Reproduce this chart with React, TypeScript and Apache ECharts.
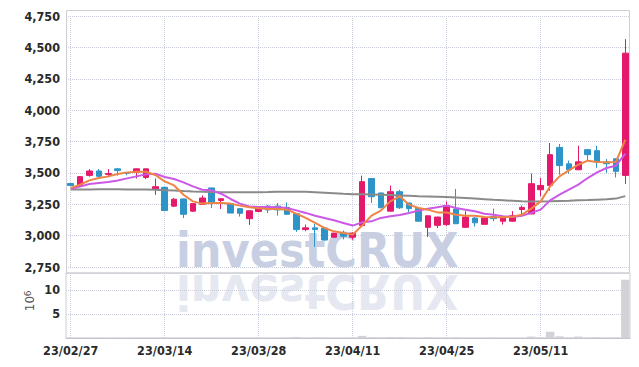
import React, { useEffect, useRef } from 'react';
import * as echarts from 'echarts';

const dates = [
  '23/02/27', '23/02/28', '23/03/02', '23/03/03', '23/03/06', '23/03/07', '23/03/08', '23/03/09', '23/03/10', '23/03/13',
  '23/03/14', '23/03/15', '23/03/16', '23/03/17', '23/03/20', '23/03/21', '23/03/22', '23/03/23', '23/03/24', '23/03/27',
  '23/03/28', '23/03/29', '23/03/30', '23/03/31', '23/04/03', '23/04/04', '23/04/05', '23/04/06', '23/04/07', '23/04/10',
  '23/04/11', '23/04/12', '23/04/13', '23/04/14', '23/04/17', '23/04/18', '23/04/19', '23/04/20', '23/04/21', '23/04/24',
  '23/04/25', '23/04/26', '23/04/27', '23/04/28', '23/05/02', '23/05/03', '23/05/04', '23/05/08', '23/05/09', '23/05/10',
  '23/05/11', '23/05/12', '23/05/15', '23/05/16', '23/05/17', '23/05/18', '23/05/19', '23/05/22', '23/05/23', '23/05/24',
];

const openP = [
  3415, 3400, 3480, 3515, 3488, 3532, 3500, 3505, 3464, 3372,
  3385, 3235, 3292, 3195, 3250, 3380, 3280, 3255, 3215, 3135,
  3192, 3235, 3235, 3225, 3175, 3048, 3062, 3060, 2987, 3020,
  2988, 3080, 3455, 3340, 3195, 3350, 3260, 3217, 3066, 3082,
  3088, 3212, 3066, 3140, 3090, 3152, 3115, 3115, 3208, 3173,
  3366, 3400, 3703, 3572, 3525, 3685, 3677, 3587, 3612, 3480,
];
const closeP = [
  3400, 3470, 3515, 3473, 3495, 3518, 3498, 3532, 3532, 3390,
  3200, 3290, 3170, 3255, 3300, 3262, 3294, 3180, 3178, 3198,
  3220, 3205, 3205, 3170, 3048, 3062, 3048, 2965, 3020, 2995,
  3020, 3430, 3310, 3222, 3350, 3222, 3215, 3115, 3158, 3148,
  3240, 3095, 3148, 3102, 3140, 3135, 3145, 3158, 3225, 3414,
  3400, 3645, 3558, 3525, 3588, 3645, 3585, 3573, 3512, 4454,
];
const lowP = [
  3395, 3395, 3470, 3465, 3465, 3478, 3480, 3455, 3450, 3325,
  3195, 3230, 3140, 3190, 3245, 3220, 3212, 3178, 3152, 3085,
  3188, 3180, 3160, 3165, 3030, 3035, 2910, 2960, 2985, 2970,
  2968, 3070, 3260, 3218, 3192, 3212, 3188, 3112, 2990, 3060,
  3078, 3092, 3062, 3072, 3088, 3114, 3088, 3110, 3168, 3170,
  3313, 3358, 3486, 3494, 3522, 3597, 3540, 3500, 3464, 3412,
];
const highP = [
  3420, 3475, 3530, 3530, 3530, 3540, 3505, 3535, 3535, 3455,
  3390, 3300, 3295, 3258, 3320, 3382, 3296, 3258, 3218, 3200,
  3225, 3245, 3260, 3265, 3178, 3088, 3093, 3062, 3022, 3040,
  3025, 3478, 3456, 3342, 3398, 3366, 3262, 3220, 3160, 3150,
  3272, 3372, 3195, 3148, 3145, 3215, 3150, 3195, 3240, 3494,
  3460, 3738, 3730, 3598, 3716, 3688, 3716, 3610, 3615, 4566,
];

const ma5 = [
  3380, 3406, 3440, 3459, 3472, 3491, 3504, 3509, 3509, 3483,
  3432, 3400, 3326, 3273, 3255, 3260, 3260, 3255, 3239, 3226,
  3218, 3212, 3212, 3207, 3175, 3141, 3101, 3061, 3034, 3021,
  3008, 3080, 3159, 3199, 3273, 3313, 3247, 3220, 3207, 3185,
  3185, 3167, 3159, 3159, 3149, 3146, 3146, 3151, 3167, 3215,
  3273, 3392, 3472, 3520, 3565, 3597, 3587, 3584, 3587, 3764,
];
const ma20 = [
  3374, 3392, 3411, 3419, 3427, 3440, 3456, 3472, 3488, 3494,
  3467, 3451, 3424, 3392, 3366, 3361, 3334, 3292, 3255, 3233,
  3228, 3228, 3226, 3220, 3201, 3181, 3159, 3141, 3122, 3101,
  3080, 3106, 3114, 3141, 3154, 3165, 3181, 3199, 3215, 3226,
  3239, 3220, 3207, 3194, 3175, 3167, 3154, 3149, 3159, 3181,
  3207, 3281, 3326, 3366, 3406, 3459, 3504, 3539, 3557, 3653,
];
const ma120 = [
  3368, 3368, 3368, 3369, 3369, 3369, 3368, 3368, 3367, 3365,
  3362, 3359, 3355, 3352, 3350, 3348, 3346, 3345, 3345, 3345,
  3346, 3347, 3349, 3350, 3350, 3349, 3346, 3342, 3338, 3333,
  3330, 3329, 3328, 3326, 3323, 3320, 3317, 3314, 3312, 3310,
  3307, 3303, 3299, 3295, 3290, 3285, 3281, 3277, 3273, 3271,
  3271, 3273, 3276, 3278, 3281, 3283, 3286, 3289, 3295, 3315,
];

// volume, in millions
const volume = [
  0.04, 0.06, 0.03, 0.05, 0.02, 0.03, 0.02, 0.04, 0.05, 0.06,
  0.08, 0.05, 0.07, 0.04, 0.05, 0.06, 0.03, 0.04, 0.05, 0.06,
  0.04, 0.03, 0.05, 0.08, 0.22, 0.06, 0.1, 0.08, 0.05, 0.06,
  0.08, 0.45, 0.15, 0.1, 0.2, 0.18, 0.08, 0.06, 0.15, 0.07,
  0.06, 0.14, 0.06, 0.05, 0.04, 0.08, 0.05, 0.04, 0.06, 0.3,
  0.12, 1.3, 0.35, 0.1, 0.3, 0.08, 0.15, 0.05, 0.1, 12.1,
];

const priceTicks = [2750, 4750, 250];
const volumeTicks = [5, 10];

const UP = '#e5196b';
const DOWN = '#2e94c8';
const FONT = '"DejaVu Sans Condensed", "DejaVu Sans", sans-serif';
const WM_FONT = 'bold 48px "DejaVu Sans Condensed", "DejaVu Sans", sans-serif';
const GRIDLINE = { type: 'dotted' as const, color: '#c9cddc', width: 1 };

export default function App() {
  const ref = useRef<HTMLDivElement>(null);
  useEffect(() => {
    if (!ref.current) return;
    const chart = echarts.init(ref.current, undefined, { renderer: 'svg' });
    const candles = dates.map((_, i) => [openP[i], closeP[i], lowP[i], highP[i]]);
    chart.setOption({
      animation: false,
      backgroundColor: '#ffffff',
      grid: [
        { left: 66, right: 9, top: 16, height: 251 },
        { left: 66, right: 9, top: 273, height: 65, show: true, borderColor: '#cfcfd4', borderWidth: 1 },
      ],
      xAxis: [
        {
          type: 'category', gridIndex: 0, data: dates, boundaryGap: true,
          axisLine: { show: false }, axisTick: { show: false }, axisLabel: { show: false },
          splitLine: { show: true, interval: 9, alignWithLabel: true, lineStyle: GRIDLINE },
        },
        {
          type: 'category', gridIndex: 1, data: dates, boundaryGap: true,
          axisLine: { show: true, lineStyle: { color: '#c4c4cc' } }, axisTick: { show: false },
          axisLabel: { interval: 9, color: '#2a2a2a', fontFamily: FONT, fontWeight: 'bold', fontSize: 12.5, margin: 6 },
          splitLine: { show: true, interval: 9, alignWithLabel: true, lineStyle: GRIDLINE },
        },
      ],
      yAxis: [
        {
          type: 'value', gridIndex: 0, min: priceTicks[0], max: priceTicks[1], interval: priceTicks[2],
          axisLine: { show: false }, axisTick: { show: false },
          axisLabel: {
            color: '#2a2a2a', fontFamily: FONT, fontWeight: 'bold', fontSize: 12.5, margin: 6,
            formatter: (v: number) => v.toLocaleString('en-US'),
          },
          splitLine: { show: true, lineStyle: GRIDLINE },
        },
        {
          type: 'value', gridIndex: 1, min: 0, max: 13.5, interval: 5,
          axisLine: { show: false }, axisTick: { show: false },
          axisLabel: {
            color: '#2a2a2a', fontFamily: FONT, fontWeight: 'bold', fontSize: 12.5, margin: 6,
            formatter: (v: number) => (volumeTicks.includes(v) ? String(v) : ''),
          },
          splitLine: { show: true, lineStyle: GRIDLINE },
        },
      ],
      graphic: [
        {
          type: 'text', x: 176, y: 249.5, z: -10, silent: true,
          style: { text: 'investCRUX', font: WM_FONT, fill: '#c8cfe3', textVerticalAlign: 'middle' },
        },
        {
          type: 'text', x: 176, y: 292, scaleY: -1, z: -10, silent: true,
          style: { text: 'investCRUX', font: WM_FONT, fill: '#e5e8f0', textVerticalAlign: 'middle' },
        },
        {
          type: 'rect', z: 5, silent: true,
          shape: { x: 66.5, y: 10.5, width: 563, height: 262.5 },
          style: { fill: 'none', stroke: '#cfcfd4', lineWidth: 1 },
        },
        {
          type: 'text', x: 30, y: 303.5, rotation: Math.PI / 2, silent: true,
          style: { text: '10', font: '12px "DejaVu Sans", sans-serif', fill: '#555', textAlign: 'center', textVerticalAlign: 'middle' },
        },
        {
          type: 'text', x: 27.5, y: 293.5, rotation: Math.PI / 2, silent: true,
          style: { text: '6', font: '9px "DejaVu Sans", sans-serif', fill: '#555', textAlign: 'center', textVerticalAlign: 'middle' },
        },
      ],
      series: [
        {
          type: 'candlestick', xAxisIndex: 0, yAxisIndex: 0, data: candles, barWidth: 6,
          itemStyle: { color: UP, color0: DOWN, borderColor: UP, borderColor0: DOWN, borderWidth: 1 },
        },
        {
          type: 'line', xAxisIndex: 0, yAxisIndex: 0, data: ma120, showSymbol: false,
          lineStyle: { color: '#8a8a8a', width: 2 },
        },
        {
          type: 'line', xAxisIndex: 0, yAxisIndex: 0, data: ma20, showSymbol: false,
          lineStyle: { color: '#cc58e6', width: 2 },
        },
        {
          type: 'line', xAxisIndex: 0, yAxisIndex: 0, data: ma5, showSymbol: false,
          lineStyle: { color: '#ee8446', width: 2 },
        },
        {
          type: 'bar', xAxisIndex: 1, yAxisIndex: 1, data: volume, barWidth: '90%',
          itemStyle: { color: '#d2d2d9' },
        },
      ],
    });
    return () => chart.dispose();
  }, []);
  return <div ref={ref} style={{ width: 639, height: 367, position: 'absolute', left: 0, top: 0 }} />;
}
